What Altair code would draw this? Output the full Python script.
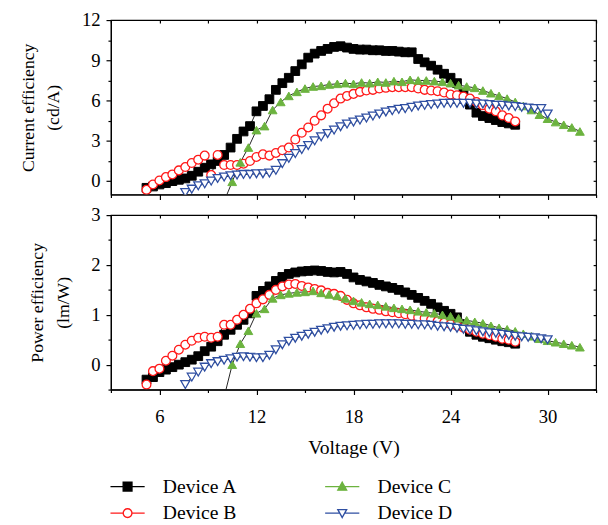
import altair as alt
import pandas as pd

# ---------------- data ----------------
V_AB = [5.2, 5.6, 6.0, 6.4, 6.8, 7.2, 7.6, 8.0, 8.4, 8.8,
        9.2, 9.6, 10.0, 10.4, 10.8, 11.2, 11.6, 12.0, 12.4, 12.8,
        13.2, 13.6, 14.0, 14.4, 14.8, 15.2, 15.6, 16.0, 16.4, 16.8,
        17.2, 17.6, 18.0, 18.4, 18.8, 19.2, 19.6, 20.0, 20.4, 20.8,
        21.2, 21.6, 22.0, 22.4, 22.8, 23.2, 23.6, 24.0, 24.4, 24.8,
        25.2, 25.6, 26.0, 26.4, 26.8, 27.2, 27.6, 28.0]

A_CE = [-0.5, -0.4, -0.25, -0.15, 0.0, 0.1, 0.2, 0.4, 0.7, 1.0,
        1.25, 1.5, 1.95, 2.5, 3.15, 3.7, 4.1, 5.2, 5.6, 6.1,
        6.8, 7.3, 7.7, 8.2, 8.7, 9.2, 9.5, 9.7, 9.85, 10.0,
        10.05, 9.95, 9.85, 9.8, 9.8, 9.75, 9.75, 9.7, 9.7, 9.65,
        9.6, 9.6, 9.1, 8.85, 8.6, 8.3, 8.0, 7.7, 7.3, 6.6,
        5.7, 5.1, 4.85, 4.7, 4.55, 4.4, 4.3, 4.2]

B_CE = [-0.65, -0.25, 0.05, 0.3, 0.5, 0.8, 1.05, 1.35, 1.6, 1.9,
        0.45, 1.95, 1.2, 1.2, 1.2, 1.3, 1.5, 1.8, 2.0, 1.9,
        2.1, 2.3, 2.5, 3.1, 3.6, 4.0, 4.5, 4.9, 5.4, 5.8,
        6.15, 6.35, 6.5, 6.65, 6.75, 6.8, 6.9, 6.95, 7.0, 7.0,
        7.0, 7.0, 6.9, 6.8, 6.75, 6.7, 6.6, 6.45, 6.4, 6.3,
        6.15, 5.9, 5.65, 5.4, 5.2, 4.9, 4.7, 4.45]

A_PE = [-0.3, -0.25, -0.15, -0.1, -0.05, 0.0, 0.05, 0.1, 0.17, 0.27,
        0.36, 0.47, 0.6, 0.7, 0.8, 0.9, 1.03, 1.38, 1.48, 1.57,
        1.68, 1.76, 1.82, 1.85, 1.87, 1.88, 1.89, 1.88, 1.86, 1.85,
        1.86, 1.82, 1.75, 1.7, 1.67, 1.64, 1.6, 1.57, 1.54, 1.5,
        1.45, 1.4, 1.34, 1.28, 1.22, 1.15, 1.08, 1.02, 0.95, 0.8,
        0.66, 0.6, 0.56, 0.53, 0.5, 0.47, 0.45, 0.42]

B_PE = [-0.4, -0.13, -0.08, 0.08, 0.18, 0.3, 0.4, 0.48, 0.54, 0.56,
        0.54, 0.56, 0.8, 0.8, 0.9, 1.0, 1.12, 1.23, 1.31, 1.4,
        1.5, 1.57, 1.61, 1.62, 1.58, 1.55, 1.52, 1.49, 1.44, 1.42,
        1.38, 1.3, 1.23, 1.19, 1.15, 1.12, 1.1, 1.07, 1.05, 1.03,
        1.01, 0.98, 0.95, 0.93, 0.9, 0.87, 0.84, 0.81, 0.78, 0.74,
        0.7, 0.66, 0.62, 0.59, 0.56, 0.52, 0.5, 0.46]

V_C = [10.0, 10.5, 11.0, 11.5, 12.0, 12.5, 13.0, 13.5, 14.0, 14.5,
       15.0, 15.5, 16.0, 16.5, 17.0, 17.5, 18.0, 18.5, 19.0, 19.5,
       20.0, 20.5, 21.0, 21.5, 22.0, 22.5, 23.0, 23.5, 24.0, 24.5,
       25.0, 25.5, 26.0, 26.5, 27.0, 27.5, 28.0, 28.5, 29.0, 29.5,
       30.0, 30.5, 31.0, 31.5, 32.0]

C_CE = [-1.5, -0.05, 1.4, 2.5, 3.8, 4.1, 5.3, 5.9, 6.35, 6.65,
        6.9, 7.05, 7.1, 7.2, 7.25, 7.3, 7.25, 7.35, 7.3, 7.4,
        7.35, 7.45, 7.4, 7.55, 7.5, 7.5, 7.45, 7.4, 7.3, 7.15,
        7.05, 6.95, 6.75, 6.55, 6.35, 6.15, 5.9, 5.6, 5.3, 4.95,
        4.65, 4.4, 4.2, 4.0, 3.7]

C_PE = [-0.65, 0.0, 0.42, 0.68, 1.03, 1.12, 1.33, 1.4, 1.43, 1.45,
        1.46, 1.48, 1.44, 1.41, 1.38, 1.33, 1.28, 1.25, 1.22, 1.2,
        1.17, 1.14, 1.12, 1.1, 1.07, 1.05, 1.03, 1.0, 0.97, 0.93,
        0.89, 0.86, 0.83, 0.78, 0.74, 0.71, 0.67, 0.62, 0.57, 0.52,
        0.48, 0.45, 0.42, 0.39, 0.35]

V_D = [7.6, 8.0, 8.4, 8.8, 9.2, 9.6, 10.0, 10.4, 10.8, 11.2,
       11.6, 12.0, 12.4, 12.8, 13.2, 13.6, 14.0, 14.4, 14.8, 15.2,
       15.6, 16.0, 16.4, 16.8, 17.2, 17.6, 18.0, 18.4, 18.8, 19.2,
       19.6, 20.0, 20.4, 20.8, 21.2, 21.6, 22.0, 22.4, 22.8, 23.2,
       23.6, 24.0, 24.4, 24.8, 25.2, 25.6, 26.0, 26.4, 26.8, 27.2,
       27.6, 28.0, 28.4, 28.8, 29.2, 29.6, 30.0]

D_CE = [-0.85, -0.6, -0.35, -0.2, 0.0, 0.2, 0.3, 0.4, 0.45, 0.5,
        0.5, 0.55, 0.55, 0.6, 0.8, 1.3, 1.7, 2.05, 2.35, 2.65,
        3.0, 3.3, 3.55, 3.8, 4.05, 4.25, 4.4, 4.55, 4.7, 4.85,
        5.0, 5.15, 5.25, 5.35, 5.4, 5.5, 5.6, 5.65, 5.7, 5.75,
        5.8, 5.8, 5.8, 5.8, 5.8, 5.75, 5.75, 5.7, 5.65, 5.65,
        5.6, 5.55, 5.5, 5.45, 5.4, 5.4, 5.0]

D_PE = [-0.4, -0.25, -0.15, -0.05, 0.02, 0.06, 0.09, 0.12, 0.15, 0.16,
        0.15, 0.14, 0.14, 0.19, 0.3, 0.4, 0.47, 0.53, 0.57, 0.61,
        0.65, 0.69, 0.72, 0.75, 0.77, 0.78, 0.79, 0.8, 0.81, 0.81,
        0.82, 0.82, 0.82, 0.82, 0.81, 0.81, 0.8, 0.8, 0.79, 0.77,
        0.76, 0.75, 0.73, 0.71, 0.7, 0.68, 0.66, 0.64, 0.63, 0.61,
        0.59, 0.57, 0.56, 0.55, 0.54, 0.52, 0.5]

DEVICES = ["Device A", "Device B", "Device C", "Device D"]

X_TICKS = [3, 6, 9, 12, 15, 18, 21, 24, 27, 30, 33]
CE_TICKS = [0, 1.5, 3, 4.5, 6, 7.5, 9, 10.5, 12]
PE_TICKS = [-0.5, 0, 0.5, 1, 1.5, 2, 2.5, 3]

SERIES = [("Device A", V_AB, A_CE, A_PE),
          ("Device B", V_AB, B_CE, B_PE),
          ("Device C", V_C, C_CE, C_PE),
          ("Device D", V_D, D_CE, D_PE)]

rows = []
for dev, vs, ce, pe in SERIES:
    for v, c, p in zip(vs, ce, pe, strict=True):
        rows.append({"device": dev, "V": v, "CE": c, "PE": p})
df = pd.DataFrame(rows)

# ---------------- styling ----------------
GREEN = "#6cb33f"
RED = "#ff1a1a"
BLUE = "#2f4fa2"
STYLE = {
    "Device A": dict(shape="square", fill="#000000", stroke="#000000", size=80, strokeWidth=1),
    "Device B": dict(shape="circle", fill="#ffffff", stroke=RED, size=80, strokeWidth=1.3),
    "Device C": dict(shape="triangle-up", fill=GREEN, stroke=GREEN, size=80, strokeWidth=1),
    "Device D": dict(shape="triangle-down", fill="#ffffff", stroke=BLUE, size=85, strokeWidth=1.3),
}
# legend symbols: short line with the marker in the middle (order = DEVICES)
LEG_PATHS = [
    "M-3.9,0H-1M1,0H3.9M-1,-1H1V1H-1Z",
    "M-3.9,0H-1M1,0H3.9M1,0A1,1,0,1,1,-1,0A1,1,0,1,1,1,0Z",
    "M-3.9,0H-0.56M0.56,0H3.9M0,-1L1,0.8H-1Z",
    "M-3.9,0H-0.56M0.56,0H3.9M0,1L1,-0.8H-1Z",
]
LEG_FILL = ["#000000", "#ffffff", GREEN, "#ffffff"]
LEG_STROKE = ["#000000", RED, GREEN, BLUE]

FONT = "Liberation Serif"
W, H = 495, 178


def panel(field, domain, yticks, major_mod, ytitle, bottom):
    xs = alt.Scale(domain=[3, 33], nice=False, zero=False)
    ys = alt.Scale(domain=domain, nice=False, zero=False)
    base = alt.Chart(df)
    x_axis = alt.Axis(
        values=X_TICKS,
        labels=bottom,
        labelExpr="datum.value % 6 === 0 ? format(datum.value, 'd') : ''",
        tickSize={"condition": {"test": "datum.value % 6 === 0", "value": 5}, "value": 3},
        labelPadding=14,
        title="Voltage (V)" if bottom else None,
        titlePadding=11,
        titleFontSize=20,
        grid=False,
    )
    y_axis = alt.Axis(
        values=yticks,
        labelExpr=f"datum.value % {major_mod} === 0 ? format(datum.value, 'd') : ''",
        tickSize={"condition": {"test": f"datum.value % {major_mod} === 0", "value": 5}, "value": 3},
        labelPadding=6,
        title=ytitle,
        titleFontSize=18,
        titlePadding=19,
        titleLineHeight=26,
        grid=False,
    )
    top_axis = alt.Axis(orient="top", values=X_TICKS, labels=False, domain=False,
                        tickSize={"expr": "-3"}, title=None, grid=False)
    right_axis = alt.Axis(orient="right", values=yticks, labels=False, domain=False,
                          tickSize={"expr": "-3"}, title=None, grid=False)

    lines = base.mark_line(color="#222222", strokeWidth=1, clip=True).encode(
        x=alt.X("V:Q", scale=xs, axis=x_axis),
        y=alt.Y(f"{field}:Q", scale=ys, axis=y_axis),
        detail="device:N",
        order="V:Q",
    )
    layers = [lines]
    for i, dev in enumerate(DEVICES):
        st = STYLE[dev]
        if i == 0:
            xe = alt.X("V:Q", scale=xs, axis=top_axis)
            ye = alt.Y(f"{field}:Q", scale=ys, axis=right_axis)
        else:
            xe = alt.X("V:Q", scale=xs, axis=None)
            ye = alt.Y(f"{field}:Q", scale=ys, axis=None)
        pts = base.transform_filter(alt.datum.device == dev).mark_point(
            shape=st["shape"], fill=st["fill"], stroke=st["stroke"], size=st["size"],
            strokeWidth=st["strokeWidth"], opacity=1, fillOpacity=1, clip=True,
        ).encode(x=xe, y=ye)
        layers.append(pts)
    if bottom:
        leg = base.transform_filter("false").mark_point(opacity=1, size=80, strokeWidth=1.4).encode(
            shape=alt.Shape("device:N", scale=alt.Scale(domain=DEVICES, range=LEG_PATHS),
                            legend=alt.Legend(
                                title=None, orient="none", legendX=7, legendY=466,
                                columns=2, labelFont=FONT, labelFontSize=20, labelColor="black",
                                symbolSize=80, symbolStrokeWidth=1.4, labelOffset=26,
                                columnPadding=85, rowPadding=7, symbolOpacity=1,
                            )),
            fill=alt.Fill("device:N", scale=alt.Scale(domain=DEVICES, range=LEG_FILL)),
            stroke=alt.Stroke("device:N", scale=alt.Scale(domain=DEVICES, range=LEG_STROKE)),
        )
        layers.append(leg)
    return alt.layer(*layers).resolve_axis(x="independent", y="independent").properties(width=W, height=H)


top = panel("CE", [-1, 12], CE_TICKS, 3, ["Current efficiency", "(cd/A)"], False)
bot = panel("PE", [-0.5, 3], PE_TICKS, 1, ["Power efficiency", "(lm/W)"], True)

chart = alt.vconcat(top, bot, spacing=21, bounds="flush").properties(
    padding={"left": 11, "top": -3, "right": 2, "bottom": 5},
    background="white",
).configure_view(stroke="black", strokeWidth=1.2).configure_axis(
    labelFont=FONT, labelFontSize=19, labelColor="black",
    titleFont=FONT, titleFontWeight="normal", titleColor="black",
    tickColor="black", domainColor="black", domainWidth=1.2, tickWidth=1.2,
)

chart.save("out.html", embed_options={"renderer": "svg", "actions": False})
